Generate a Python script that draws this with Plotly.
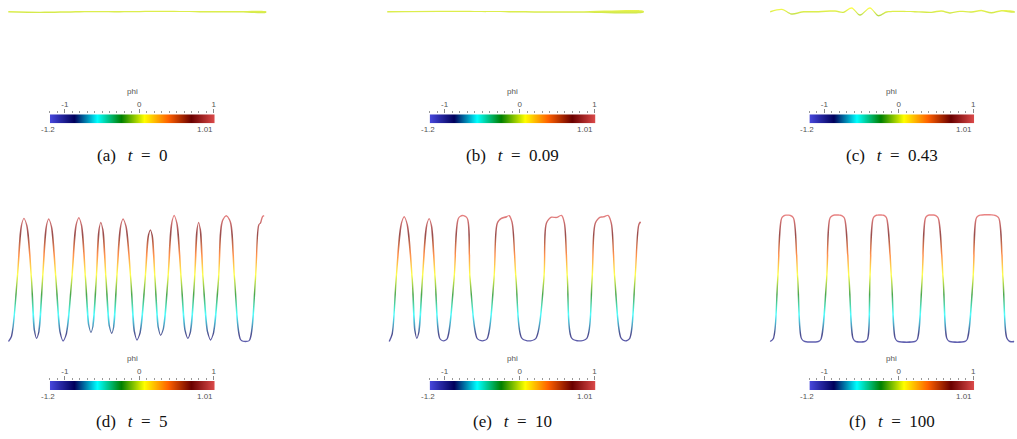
import numpy as np
import plotly.graph_objects as go

W, H = 1017, 439

# colour bar range and ParaView "Rainbow Desaturated" map
PHI_MIN, PHI_MAX = -1.2, 1.01
RAINBOW = ['#4747db', '#00005c', '#00ffff', '#008000',
           '#ffff00', '#ff6100', '#6b0000', '#e04d4d']
CSCALE = [[k / 7, c] for k, c in enumerate(RAINBOW)]
BAR_TICKS = [-1, 0, 1]

labels = ['(a)', '(b)', '(c)', '(d)', '(e)', '(f)']
times = ['0', '0.09', '0.43', '5', '10', '100']

# phi profiles (x = position along the domain)
x_a = [8.3, 40, 80, 120, 160, 200, 240, 266.7]
phi_a = [0.0, -0.01, 0.0, 0.0, 0.005, 0.0, 0.0, -0.005]

x_b = [8, 60, 130, 200, 265]
phi_b = [0.0, 0.005, 0.0, -0.005, 0.0]

x_c = [11.7, 23.3, 33.3, 43.3, 60, 76.7, 85, 93.3, 101.7, 111.7, 120, 128.3,
       136.7, 156.7, 173.3, 183.3, 191.7, 201.7, 213.3, 223.3, 233.3, 243.3, 256.7]
phi_c = [0.0, 0.037, -0.037, -0.005, 0.0, 0.01, -0.01, 0.058, -0.053, 0.058, -0.063,
         -0.005, 0.005, 0.0, -0.01, 0.01, -0.02, 0.005, -0.005, 0.02, -0.016, 0.016, -0.005]

x_d = [8.5, 11.5, 17.3, 21.5, 24, 26.9, 31.5, 34.7, 36.7, 39.0, 42.7, 46.5, 48.8,
       51.5, 56, 60.5, 63.3, 66.6, 72, 76.3, 79, 81.6, 85.7, 89.1, 91.2, 93.2,
       96.5, 99.3, 101, 103, 106.2, 109.8, 112, 113.9, 117, 120.9, 123.3, 126.2,
       131, 134.9, 137.3, 140.4, 145.5, 148.7, 150.7, 152.5, 155.3, 158.8, 161,
       163.8, 168.3, 172.1, 174.5, 177.2, 181.5, 185.7, 188.3, 190.9, 195, 197.5,
       199, 200.7, 203.5, 208.2, 211, 214, 219, 222.6, 226.7, 230.8, 235, 241.5,
       246, 250, 256, 259.3, 261, 263, 264.5]
phi_d = [-1.0, -0.92, 0.0, 0.84, 0.955, 0.84, 0.0, -0.84, -0.95, -0.84, 0.0, 0.83,
         0.945, 0.83, 0.0, -0.87, -0.99, -0.87, 0.0, 0.85, 0.965, 0.85, 0.0, -0.75,
         -0.855, -0.75, 0.0, 0.78, 0.89, 0.78, 0.0, -0.77, -0.87, -0.77, 0.0, 0.83,
         0.945, 0.83, 0.0, -0.86, -0.975, -0.86, 0.0, 0.68, 0.77, 0.68, 0.0, -0.79,
         -0.9, -0.79, 0.0, 0.88, 1.0, 0.88, 0.0, -0.84, -0.95, -0.84, 0.0, 0.78,
         0.89, 0.78, 0.0, -0.86, -0.975, -0.86, 0.0, 0.9, 0.995, 0.9, 0.0, -0.98,
         -1.0, -0.98, 0.0, 0.85, 0.88, 0.98, 1.0]

x_e = [10, 13, 17, 22, 25, 28, 33, 35.9, 37.7, 39.8, 43.3, 47.5, 50, 52.3, 56, 61,
       64.5, 68, 75, 79.5, 83.3, 88, 91, 98.5, 103.3, 108, 115, 118.3, 122, 127.7,
       130, 133, 137, 143, 150, 157, 165, 167.5, 172, 178, 182.7, 185.5, 188.5,
       193, 200, 208, 213.3, 216.5, 221, 225, 229.3, 232.5, 236, 242.5, 246.7,
       251, 256.3, 260, 261.7]
phi_e = [-1.0, -0.88, 0.0, 0.86, 0.98, 0.86, 0.0, -0.84, -0.95, -0.84, 0.0, 0.84,
         0.95, 0.84, 0.0, -0.96, -0.99, -0.96, 0.0, 0.96, 1.0, 0.96, 0.0, -0.96,
         -0.99, -0.96, 0.0, 0.88, 0.95, 0.98, 1.0, 0.9, 0.0, -0.95, -0.99, -0.95,
         0.0, 0.88, 0.97, 0.97, 1.0, 0.88, 0.0, -0.95, -0.99, -0.95, 0.0, 0.88,
         0.97, 0.98, 1.0, 0.88, 0.0, -0.95, -0.99, -0.95, 0.0, 0.85, 0.9]

x_f = [11.7, 15, 19.3, 23.3, 26, 32, 35, 39.3, 43.3, 46.5, 60, 62.7, 68.3, 71.7,
       74.5, 83, 86, 90.7, 95, 97.5, 106.5, 109.3, 111.7, 115, 117.5, 126, 128.3,
       133.3, 137.3, 140, 156.7, 159.3, 164, 167.3, 169.5, 177.3, 180, 185, 189,
       191.7, 206.7, 209.3, 215, 218.3, 221, 237.3, 240.7, 245, 249, 252, 256]
phi_f = [-1.0, -0.95, 0.0, 0.96, 1.0, 1.0, 0.96, 0.0, -0.96, -1.0, -1.0, -0.96,
         0.0, 0.96, 1.0, 1.0, 0.96, 0.0, -0.96, -1.0, -1.0, -0.96, 0.0, 0.96, 1.0,
         1.0, 0.96, 0.0, -0.96, -1.0, -1.0, -0.96, 0.0, 0.96, 1.0, 1.0, 0.96, 0.0,
         -0.96, -1.0, -1.0, -0.96, 0.0, 0.96, 1.0, 1.0, 0.96, 0.0, -0.95, -1.0, -1.0]

profiles = [(x_a, phi_a), (x_b, phi_b), (x_c, phi_c),
            (x_d, phi_d), (x_e, phi_e), (x_f, phi_f)]

PX_PHI = 63.0          # pixels per unit phi
LINE_W = 1.4           # stroke width in px
col_left = [0, 380, 760]
col_width = [270, 270, 257]
bar_px = [(50, 215), (430.5, 596.5), (811, 976)]
row_off = [0, 266.7]


def band(xs, ps, w=LINE_W):
    # thin polygon around the curve so it can carry a vertical colour gradient
    px = np.asarray(xs, float)
    py = np.asarray(ps, float) * PX_PHI
    tx, ty = np.gradient(px), np.gradient(py)
    n = np.hypot(tx, ty)
    nx, ny = -ty / n * w / 2, tx / n * w / 2
    bx = np.concatenate([px + nx, (px - nx)[::-1]])
    by = np.concatenate([py + ny, (py - ny)[::-1]]) / PX_PHI
    return bx, by


fig = go.Figure()
layout = {}
ann = []
small = dict(family='Liberation Sans', size=8, color='#555')

for i, (xs, ps) in enumerate(profiles):
    row, col = divmod(i, 3)
    n1, n2 = 2 * i + 1, 2 * i + 2
    ax1 = '' if n1 == 1 else str(n1)
    ax2 = str(n2)

    # curve axes
    left = col_left[col]
    if row == 0:
        top_px, bot_px, zero_px = 0, 30, 11.7
    else:
        top_px, bot_px, zero_px = 200, 350, 278.5
    layout['xaxis' + ax1] = dict(domain=[left / W, (left + col_width[col]) / W],
                                 range=[0, col_width[col]], visible=False,
                                 anchor='y' + ax1)
    layout['yaxis' + ax1] = dict(domain=[1 - bot_px / H, 1 - top_px / H],
                                 range=[(zero_px - bot_px) / PX_PHI,
                                        (zero_px - top_px) / PX_PHI],
                                 visible=False, anchor='x' + ax1)
    bx, by = band(xs, ps)
    fig.add_trace(go.Scatter(
        x=bx, y=by, mode='lines', fill='toself',
        line=dict(width=0, shape='spline', smoothing=0.8),
        fillgradient=dict(type='vertical', colorscale=CSCALE,
                          start=PHI_MIN, stop=PHI_MAX),
        opacity=0.7, hoverinfo='skip',
        xaxis='x' + ax1, yaxis='y' + ax1))

    # colour bar
    b0, b1 = bar_px[col]
    off = row_off[row]
    bar_top, bar_bot = 114.3 + off, 123.3 + off
    stops = [PHI_MIN + k / 7 * (PHI_MAX - PHI_MIN) for k in range(8)]
    fig.add_trace(go.Heatmap(
        x=stops, y=[0], z=[stops], zmin=PHI_MIN, zmax=PHI_MAX,
        colorscale=CSCALE, zsmooth='best', showscale=False, hoverinfo='skip',
        xaxis='x' + ax2, yaxis='y' + ax2))
    layout['xaxis' + ax2] = dict(
        domain=[b0 / W, b1 / W], range=[PHI_MIN, PHI_MAX], anchor='y' + ax2,
        side='top', tickmode='array', tickvals=BAR_TICKS,
        ticktext=[str(t) for t in BAR_TICKS], ticks='outside', ticklen=4,
        tickwidth=1, tickcolor='#8a8a8a', showgrid=False, zeroline=False,
        showline=False, tickfont=small, ticklabelstandoff=-1,
        minor=dict(tickmode='linear', tick0=0, dtick=0.1, ticks='outside',
                   ticklen=2.5, tickcolor='#9a9a9a', showgrid=False))
    layout['yaxis' + ax2] = dict(domain=[1 - bar_bot / H, 1 - bar_top / H],
                                 range=[-0.5, 0.5], visible=False, anchor='x' + ax2)

    common = dict(xref='paper', yref='paper', showarrow=False, yanchor='middle')
    ann.append(dict(text='phi', x=(b0 + b1) / 2 / W, y=1 - (91.7 + off) / H,
                    xanchor='center', font=small, **common))
    ann.append(dict(text='-1.2', x=(b0 - 2) / W, y=1 - (130 + off) / H,
                    xanchor='center', font=small, **common))
    ann.append(dict(text='1.01', x=b1 / W, y=1 - (130 + off) / H,
                    xanchor='right', font=small, **common))
    ann.append(dict(text=labels[i] + '\u2002\u2009<i>t</i>\u2002=\u2002' + times[i],
                    x=(b0 + b1) / 2 / W, y=1 - (155 + off) / H, xanchor='center',
                    font=dict(family='Liberation Serif', size=17, color='#111'),
                    **common))

fig.update_layout(width=W, height=H, margin=dict(l=0, r=0, t=0, b=0),
                  paper_bgcolor='white', plot_bgcolor='white', showlegend=False,
                  annotations=ann, **layout)
fig.write_html('out.html', config={'displayModeBar': False},
               post_script="document.body.style.margin='0';")
